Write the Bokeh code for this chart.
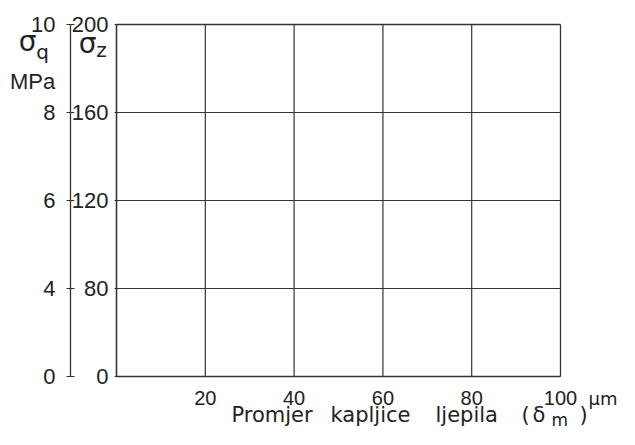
from bokeh.plotting import figure
from bokeh.models import Range1d, LinearAxis, FixedTicker, Label
from bokeh.embed import file_html
from bokeh.resources import INLINE

# ---- data ----
x_ticks = [20, 40, 60, 80, 100]          # drop diameter, µm
x_grid = [20, 40, 60, 80]
sz_ticks = [0, 80, 120, 160, 200]        # sigma_z axis labels
sq_ticks = [0, 4, 6, 8, 10]              # sigma_q axis labels, MPa
sz_grid = [80, 120, 160]
# the axes are broken: their "0" sits one interval below the lowest numbered tick
sz_floor = 40
sq_floor = 2
x_min, x_max = 0, 100
sz_max = 200
sq_max = 10

INK = "#333333"
TXT = "#222222"
NUM_FONT = "Liberation Sans"
TXT_FONT = "DejaVu Sans"

# ---- layout: the frame covers the whole canvas, the chart box sits inside it ----
W, H = 619, 429
FL, FR, FT, FB = 116, 560, 24, 376     # chart box in canvas pixels
kx = (x_max - x_min) / (FR - FL)
ky = (sz_max - sz_floor) / (FB - FT)
kq = (sq_max - sq_floor) / (FB - FT)

p = figure(width=W, height=H, output_backend="svg", toolbar_location=None,
           x_range=Range1d(x_min - FL * kx, x_min + (W - FL) * kx),
           y_range=Range1d(sz_floor - (H - FB) * ky, sz_max + FT * ky),
           min_border=0)
p.extra_y_ranges = {"q": Range1d(sq_floor - (H - FB) * kq, sq_max + FT * kq)}
p.background_fill_color = "white"
p.border_fill_color = "white"
p.outline_line_color = None
p.xgrid.visible = False
p.ygrid.visible = False

def dx(px):
    return x_min + (px - FL) * kx
def dy(py):
    return sz_max - (py - FT) * ky

# grid lines and box, from the data values
p.segment(x0=x_grid, y0=[sz_floor] * len(x_grid), x1=x_grid, y1=[sz_max] * len(x_grid),
          line_color=INK, line_width=1.2)
p.segment(x0=[x_min] * len(sz_grid), y0=sz_grid, x1=[x_max] * len(sz_grid), y1=sz_grid,
          line_color=INK, line_width=1.2)
p.segment(x0=[x_min, x_min, x_min, x_max], y0=[sz_floor, sz_max, sz_floor, sz_floor],
          x1=[x_max, x_max, x_min, x_max], y1=[sz_floor, sz_max, sz_max, sz_max],
          line_color=INK, line_width=1.3)

# x axis, fixed at the bottom of the box
xa = p.xaxis[0]
xa.fixed_location = sz_floor
xa.ticker = FixedTicker(ticks=x_ticks)
xa.axis_line_color = None
xa.major_tick_out = 0
xa.major_tick_in = 0
xa.minor_tick_line_color = None
xa.major_label_standoff = 14
xa.major_label_text_font = NUM_FONT
xa.major_label_text_font_size = "20px"
xa.major_label_text_color = TXT

# sigma_z axis on the left edge of the box
za = p.yaxis[0]
za.fixed_location = x_min
z_pos = [sz_floor if v == 0 else v for v in sz_ticks]
za.ticker = FixedTicker(ticks=z_pos)
za.bounds = (sz_floor, sz_max)
za.major_label_overrides = {sz_floor: "0"}
za.axis_line_color = INK
za.axis_line_width = 1.3
za.major_tick_out = 2
za.major_tick_in = 0
za.major_tick_line_color = INK
za.minor_tick_line_color = None
za.major_label_standoff = 6
za.major_label_text_font = NUM_FONT
za.major_label_text_font_size = "22px"
za.major_label_text_color = TXT

# sigma_q axis further left
q_pos = [sq_floor if v == 0 else v for v in sq_ticks]
qa = LinearAxis(y_range_name="q", ticker=FixedTicker(ticks=q_pos),
                major_label_overrides={sq_floor: "0"}, fixed_location=dx(70),
                bounds=(sq_floor, sq_max))
qa.axis_line_color = INK
qa.axis_line_width = 1.3
qa.major_tick_out = 4
qa.major_tick_in = 4
qa.major_tick_line_color = INK
qa.minor_tick_line_color = None
qa.major_label_standoff = 11
qa.major_label_text_font = NUM_FONT
qa.major_label_text_font_size = "22px"
qa.major_label_text_color = TXT
p.add_layout(qa, "left")

def lab(text, px, py, size, font=TXT_FONT, align="center"):
    p.add_layout(Label(x=dx(px), y=dy(py), text=text, text_font=font,
                       text_font_size=size, text_align=align,
                       text_baseline="middle", text_color=TXT))

# axis names
lab("σ", 27, 41, "28px")
lab("q", 42, 51, "20px")
lab("MPa", 32, 81, "22px", font=NUM_FONT)
lab("σ", 87, 43, "28px")
lab("z", 101, 49, "20px")
lab("μm", 588, 398, "18px", align="left")

# x axis title, placed word by word
ty = 414
lab("Promjer", 231, ty, "21px", align="left")
lab("kapljice", 330, ty, "21px", align="left")
lab("ljepila", 435, ty, "21px", align="left")
lab("(", 521, ty, "21px", align="left")
lab("δ", 532, ty, "21px", align="left")
lab("m", 551, ty + 5, "17px", align="left")
lab(")", 579, ty, "21px", align="left")

open("out.html", "w").write(file_html(p, INLINE))
